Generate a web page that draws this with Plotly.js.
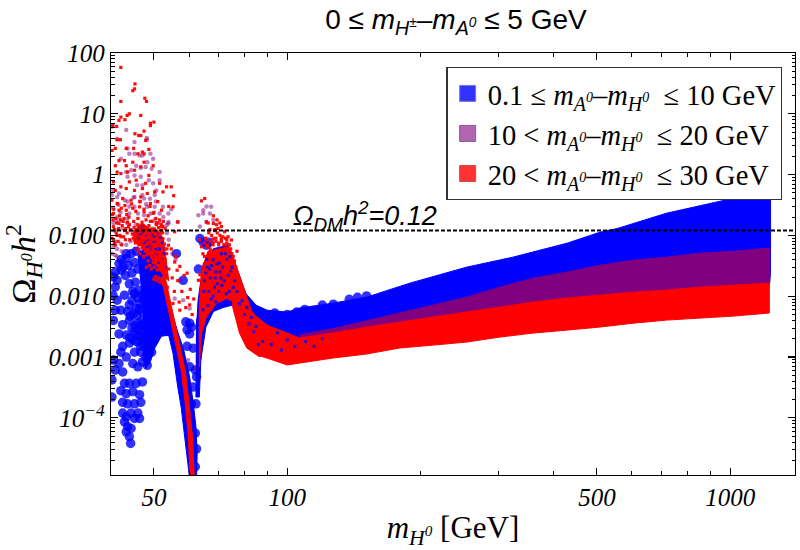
<!DOCTYPE html>
<html><head><meta charset="utf-8">
<script src="https://cdn.plot.ly/plotly-3.0.1.min.js"></script>
<style>html,body{margin:0;padding:0;background:#fff}</style>
</head><body><div id="chart" style="width:800px;height:550px"></div>
<script>
// ---------- tick labels ----------
const xTickVals=[50,100,500,1000];
const xTickText=['50','100','500','1000'];
const xMinorVals=[60,70,80,90,200,300,400,600,700,800,900];
const yTickVals=[100,10,1,0.1,0.01,0.001,0.0001];
const yTickText=['100','10','1','0.100','0.010','0.001','10<sup>−4</sup>'];
const yMinorVals=[];
for(const d of [10,1,0.1,0.01,0.001,0.0001,0.00001])for(const m of [2,3,4,5,6,7,8,9])yMinorVals.push(d*m);
const relicLimit=[0.12,0.12];
const relicLimitX=[40,1400];

// ---------- dense bands, upper and lower edges ----------
const bandX=[106.7,126.9,151,179.5,213.4,253.9,302,359,427,508,604,718,854,1016,1218];
const blueTopX=[80,85,90,100,106.7,126.9,151,189,254,323,428,508,558,718,1016,1090,1233];
const blueTopY=[.0118,.00714,.0059,.00548,.00638,.0077,.00966,.0164,.0301,.0439,.0745,.113,.131,.232,.408,.493,.552];
const blueLowX=[1233,1225,1016,718,427,253.9,151,106.7,100,90,85,82];
const blueLowY=[.0246,.0152,.0141,.0126,.00931,.00548,.00311,.00205,.0012,.00105,.00135,.0017];
const purpleTopY=[.00233,.00295,.00395,.0053,.00714,.00966,.0141,.0198,.0249,.0324,.0392,.0439,.051,.0551,.0617];
const redTopY=[.00205,.00248,.00311,.00376,.00454,.00548,.00662,.008,.00931,.01042,.01167,.0126,.0141,.0152,.0164];
const redLowY=[.000796,.000964,.00112,.00141,.00157,.00176,.00213,.00248,.00277,.00311,.00361,.00405,.00437,.00471,.00528];
const redLeftTopX=[75.3,80,85,90,100];
const redLeftTopY=[.011,.0077,.00471,.00335,.00248];
const redLeftLowX=[100,90,85.3,81,78,75.3];
const redLeftLowY=[.00074,.00096,.00108,.00141,.00248,.0066];

// ---------- dense blobs in the resonance region ----------
const blueBodyX=[46,47.5,49.4,51.5,53.4,55,54.5,52,50.2,49.1,47.9,47.3,47.5,47.3,46.6];
const blueBodyY=[.05,.06,.05,.03,.014,.0031,.0023,.0022,.0014,.00084,.00065,.0012,.0028,.0055,.02];
const blueArmX=[53.4,56.4,58.4,60.2,61.3,62.2,62.6,62.4,60.2,59,57.6,56.6,55.2,53.9];
const blueArmY=[.011,.0028,.0013,.00047,.00018,.000072,.000027,.00001,.00001,.0000335,.00015,.00032,.00115,.0024];
const blueRightX=[62.4,64,63.8,63.3,62.2,62.2];
const blueRightY=[.004,.0076,.00089,.00022,.00022,.00078];
const blueHumpX=[62.9,64.6,68.1,73.5,76.1,80.9,86.6,86.6,81.6,78.1,75.4,71.6,68.1,65.5,63.8,62.5,62.4];
const blueHumpY=[.0086,.0344,.0605,.069,.0365,.0104,.0049,.001,.0018,.0046,.0072,.0065,.0056,.0031,.00089,.00089,.0031];
const redHumpX=[63.3,64,66.2,74.1,76.8,86.6,86.6,82.3,76.8,72.9,69.2,65.7,64,63.3];
const redHumpY=[.0065,.026,.055,.065,.0303,.0024,.001,.0015,.0076,.0092,.0076,.0046,.0024,.00069];
const redArmX=[53,55.3,57.3,58.8,60,61.1,61.7,60.4,59.8,58.8,57.6,56.1,54.2,51.9];
const redArmY=[.0208,.0049,.0016,.00061,.00018,.000049,.00001,.00001,.000049,.00018,.00061,.0016,.0049,.0208];
const redCloudX=[45,47,49,51,52.5,53,54,53,51,49,47,45];
const redCloudY=[.12,.16,.13,.12,.09,.05,.018,.02,.03,.045,.065,.08];

// ---------- individual points ----------
const blueX=[40.5,40.9,40.4,41.3,42.9,44,40.9,42.1,43.6,45.6,40.5,42.5,44,46,47.1,47.5,41.7,43.3,45.2,46.7,48.3,42.5,44,45.6,47.1,48.7,49.4,42.1,43.3,45.2,46.7,47.9,40.5,41.7,44.8,46,47.1,48.3,40.9,42.5,40.2,42.9,44,45.6,47.1,40.2,42.1,43.3,44.8,46.4,46.7,42.5,43.6,45.2,42.5,43.3,44.4,46,46.4,45.2,42.9,43.6,44.4,43.3,44,44.3,40.9,41.3,41.7,43.3,42.2,
58.2,56.2,59,60.2,60.2,59.4,60.8,59.4,61.3,60.2,62,62.4,61.3,62.2,60.2,60.7,62,62.4,62,63.5,64.6,65.7,66.6,63,
109.5,114,120,127,138,144,151,82,86.7,93.7,100,105,
42.2,43.3,44.4,45.6,42.6,43.8,45.2,43.1,44.6,46,44,45.4,44.8,46.2,
44.6,45.2,45.9,46.5,47,47.4,44.2,45,45.8,46.4,47,44.6,45.4,46.2,46.9,47.4,44.1,45,45.8,46.6,47.2,47.6];
const blueY=[.0208,.0142,.0104,.0086,.0104,.0072,.0059,.0059,.0056,.0063,.004,.0034,.004,.0036,.004,.0028,.0024,.0023,.0026,.0022,.0024,.0015,.0017,.0018,.0016,.0014,.0012,.0012,.001,.0012,.0012,.001,.00089,.00078,.00078,.00069,.00083,.00073,.00061,.00057,.00042,.00037,.00037,.00037,.00039,.00022,.00028,.00025,.00027,.00024,.00018,.00018,.00017,.00017,.00012,.000104,.00012,.00012,.000098,.000098,.000086,.000072,.000067,.000059,.000049,.000038,.0251,.0183,.0344,.05,.0268,
.0183,.05,.0038,.0036,.0024,.0028,.0031,.0015,.0014,.00069,.00061,.00047,.00032,.00017,.000086,.00017,.000056,.000031,.0000157,.089,.0775,.069,.0775,.028,
.00607,.00585,.00714,.0074,.0089,.0096,.0101,.0063,.0055,.0053,.005,.0055,
.04,.042,.05,.055,.03,.032,.036,.022,.024,.028,.016,.017,.012,.0125,
.0085,.011,.0095,.0075,.0105,.0085,.0047,.0052,.0048,.0062,.0056,.003,.0033,.0029,.0032,.0035,.0021,.0019,.0023,.0015,.0019,.0022];
const blueSpeckX=[46,47.5,48,49,50,50.5,51.5,52,49.5,47,66,67,68,69,70,71,71.5,72,73,73.5,74,75,76,77,65,66.5,68,69.5,78,80,82,84,86,88,92,95,97,100,104,110,115,120,
64.8,65.5,66.2,67.5,68.5,69.3,70.5,72.5,74.5,75.5,65.8,67.3,68.8,70.2,71.2,72.8,74.2,64.5,66.8,69,70.8,79,81,83,85,
46.5,47.2,48.4,48.8,49.7,50.2,50.9,51.2,52.3,52.7,53.2,48.2,49.2,50.4,51.7];
const blueSpeckY=[.09,.075,.1,.06,.08,.05,.06,.04,.105,.11,.03,.02,.04,.025,.012,.05,.03,.018,.04,.022,.012,.03,.018,.012,.018,.012,.01,.016,.0075,.005,.0035,.0026,.0016,.0018,.0016,.0025,.0013,.0019,.0015,.0018,.0015,.002,
.012,.024,.007,.032,.014,.034,.025,.05,.026,.014,.04,.009,.02,.035,.015,.011,.045,.006,.028,.008,.02,.0085,.0065,.0045,.0032,
.1,.13,.065,.12,.045,.095,.11,.035,.075,.05,.03,.085,.07,.06,.09];
const purpleX=[40.2,41.3,43.3,45.2,48.2,48.2,43.6,44,42.1,45.2,46.4,47.1,49.1,49.8,48.3,45.6,46.7,47.9,49.4,44.4,43.3,45.2,43.6,46.7,48.7,49.8,51.5,51.5,47.1,45.8,50.6,50.2,47.1,47.5,45.2,40.5,41.7,41.3,40.2,43.6,45.2,50.2,48.3,52.4,54.7,53.9,56.6,53.9,53.4,49.1,47.5,46,43.6,42.1,40.5,41.3,44,50.2,51.5,
63,64.6,65.7,67.3,64.6,66.9,65.7,68.1,63.5,53.9,57.2,58.2,55.7,41.3,42.1,40.9,60.2,59.7,60.2,61.9,40.2,40.9,46,48.3,50.6,51.5,
40.3,40.7,41.2,41.6,42,42.5,43,43.5,44,44.5,45,45.5,46,46.5,47,47.5,48,48.5,49,49.5,50,50.5,51,51.5,52,52.5,53,53.5,54,55,56,40.5,41.3,42.3,43.3,44.3,45.3];
const purpleY=[6.2,3.9,5.4,3.45,4,3.75,2.7,2.2,1.83,2.2,2.07,2.07,2.2,1.83,1.6,1.4,1.3,1.34,1.25,1.18,1.1,.97,.92,.92,.81,.72,1.1,.81,.67,.67,.55,.46,.46,.405,.43,.55,.49,.43,.46,.36,.295,.295,.295,.295,.27,.23,.167,.167,.148,.23,.215,.23,.19,.18,.16,.2,.23,.18,.16,
.215,.26,.3,.295,.23,.23,.167,.18,.14,.157,.0183,.0086,.0092,.06,.073,.078,.0063,.00089,.000104,.00065,.05,.047,.06,.083,.055,.073,
.28,.12,.17,.32,.24,.13,.38,.16,.3,.12,.42,.15,.11,.36,.14,.12,.33,.09,.4,.13,.09,.36,.1,.23,.075,.2,.06,.11,.085,.05,.04,.065,.045,.055,.07,.08,.06];
const redX=[42.1,45.3,45.2,44.8,42.1,47.7,48.1,44,43.5,43,42.1,46.7,40.4,41.2,41.7,49.1,50,49.1,41.3,42,47.5,45.3,46.2,46.7,40.9,43.3,47.9,48.7,45,46,47.5,47.1,40.2,41.7,40.9,42.9,44.8,47.5,49.8,43.3,41.3,42.1,43.6,45.2,46.7,48.7,51.5,53.4,54.7,55.4,52.4,47.9,47.1,45.6,44,42.1,40.5,40.9,43.3,45.2,48.3,50.2,51,55.2,56.6,40.2,41.3,42.5,44.4,46.7,49.1,52,40.5,41.7,43.3,44.8,46.4,47.5,49.8,50.6,52.4,55.7,
40.5,41.7,42.9,44,41.3,40.5,42.1,40.9,46,47.5,49.1,50.6,49.8,52,53.4,53.9,54.7,55.7,57.2,56.4,59.4,57.2,60.2,55.2,63,63.5,65.7,68.1,69.2,69.8,71,72.2,66.9,68.7,73.5,74.8,71,68.1,65.7,64,63.5,64,65.1,68.1,69.4,70.4,66.3];
const redY=[58,31,25.7,24,16,18,16,10,9.4,8,8.8,9.4,6.4,6.2,7.8,7,7.3,6.4,3.75,3.75,5.2,4.7,4.4,4.4,2.7,2.7,3.65,2.6,2.7,2.2,2.2,2.35,2.5,1.7,1.4,1.7,1.6,1.6,1.4,1.4,1.1,1.04,1.1,1.18,1.34,.97,.72,.63,.63,.45,.52,.72,.59,.81,.76,.63,.76,.55,.59,.55,.49,.52,.36,.295,.167,.38,.335,.405,.38,.43,.335,.26,.23,.26,.26,.28,.295,.245,.23,.16,.14,.115,
.139,.157,.12,.15,.1,.084,.095,.069,.15,.13,.17,.15,.115,.14,.05,.069,.06,.0365,.031,.0268,.024,.0059,.0072,.0076,.0183,.0226,.167,.157,.15,.13,.14,.115,.125,.125,.095,.084,.088,.088,.084,.065,.084,.37,.405,.21,.18,.16,.16];
const redCloudRowX=[44.2,44.7,45.1,45.5,45.9,46.3,46.6,47,47.3,47.7,48,48.4,48.7,49,49.4,49.7,50.1,50.4,50.8,51.2,51.6,52,52.3,
44.9,45.4,45.8,46.2,46.7,47.1,47.5,47.9,48.3,48.6,49.1,49.5,49.9,50.3,50.7,51.1,51.5,51.9,52.4,52.8,
46.1,46.5,47,47.4,47.8,48.2,48.7,49,49.4,49.9,50.2,50.6,51,51.4,51.8,52.2,52.6,53,
48.1,48.5,48.9,49.3,49.8,50.1,50.5,50.9,51.3,51.7,52.1,52.5,52.9,53.3,
50,50.4,50.8,51.2,51.6,52,52.4,52.8,53.2,53.6,54,
40.3,40.6,41,41.4,41.8,42.2,42.6,43,43.4,43.8,40.4,40.8,41.2,41.6,42,42.4,42.8,43.2,43.6,44.1,40.2,40.7,41.1,41.5,41.9,42.3,42.7,43.1,43.5,43.9,
44.5,45,45.5,46,46.5,47,47.5,48,48.5,49,49.5,50,50.5,51,51.5,52,52.5,53,53.5,
64.5,65,65.5,66,66.5,67,67.5,68,68.5,69,69.5,70,70.5,71,71.5,72,72.5,73,73.5,74,74.5,75,75.5,76,76.5,77,66,67,68,69,70,71,72,73,74,75,65,64.6,
53,54,55,55.6,56,56.6,57,57.8,58.5,59,59.6,60.4,61,61.5,62];
const redCloudRowY=[.125,.105,.135,.11,.098,.14,.115,.12,.102,.13,.108,.118,.145,.1,.125,.112,.128,.104,.118,.135,.108,.122,.11,
.09,.075,.085,.07,.095,.08,.068,.088,.072,.092,.078,.07,.086,.066,.09,.074,.082,.068,.088,.072,
.058,.05,.062,.045,.055,.048,.06,.052,.044,.056,.047,.053,.042,.05,.04,.046,.038,
.036,.03,.038,.032,.028,.036,.03,.034,.027,.032,.029,.035,.028,.03,
.022,.019,.021,.018,.02,.017,.019,.016,.018,.015,.014,
.3,.22,.27,.19,.33,.21,.28,.17,.31,.22,.14,.18,.125,.16,.13,.18,.145,.19,.13,.165,.085,.09,.075,.11,.08,.1,.07,.095,.085,.11,
.2,.33,.17,.25,.19,.36,.165,.27,.18,.21,.3,.17,.24,.19,.16,.18,.15,.17,.13,
.06,.05,.075,.09,.065,.11,.08,.1,.07,.12,.09,.11,.075,.1,.085,.095,.07,.09,.075,.07,.055,.06,.05,.045,.038,.03,.055,.07,.06,.075,.08,.07,.08,.07,.085,.07,.04,.045,
.03,.04,.028,.02,.012,.045,.018,.008,.012,.022,.0065,.0095,.013,.005,.009];

// ---------- labels ----------
const seriesNames=[
 '0.1 ≤ <i>m</i><sub><i>A<sup>0</sup></i></sub>–<i>m</i><sub><i>H<sup>0</sup></i></sub>&nbsp; ≤ 10 GeV',
 '10 &lt; <i>m</i><sub><i>A<sup>0</sup></i></sub>–<i>m</i><sub><i>H<sup>0</sup></i></sub>&nbsp; ≤ 20 GeV',
 '20 &lt; <i>m</i><sub><i>A<sup>0</sup></i></sub>–<i>m</i><sub><i>H<sup>0</sup></i></sub>&nbsp; ≤ 30 GeV'];
const BLUE='#0000ff',PURPLE='#800080',RED='#ff0000';

function joinPolys(...polys){const out=[];polys.forEach((p,i)=>{if(i)out.push(null);out.push(...p,p[0]);});return out;}
function area(x,y,color,w){return {x,y,type:'scatter',mode:'lines',fill:'toself',fillcolor:color,line:{color,width:w},showlegend:false,hoverinfo:'skip',connectgaps:false};}
function pts(x,y,color,size,symbol,op){return {x,y,type:'scatter',mode:'markers',marker:{color,size,symbol,opacity:op,line:{width:0}},showlegend:false,hoverinfo:'skip'};}
function legendEntry(name,color,edge){return {x:[null],y:[null],type:'scatter',mode:'markers',name,legendgroup:name,marker:{color,opacity:1,size:16,symbol:'square',line:{color:edge,width:1}},hoverinfo:'skip'};}

const rev=a=>a.slice().reverse();
const traces=[
 area(joinPolys(blueBodyX,blueArmX,blueRightX,blueHumpX,[...blueTopX,...blueLowX]),
      joinPolys(blueBodyY,blueArmY,blueRightY,blueHumpY,[...blueTopY,...blueLowY]),BLUE,1),
 pts(blueX,blueY,BLUE,9.5,'circle',.8),
 area([...bandX,1228,1228,...rev(bandX)],[...purpleTopY,.0617,.0164,...rev(redTopY)],PURPLE,1),
 area(joinPolys(redCloudX,redArmX,redHumpX,[...redLeftTopX,...bandX,1225,1225,...rev(bandX),...redLeftLowX]),
      joinPolys(redCloudY,redArmY,redHumpY,[...redLeftTopY,...redTopY,.0164,.00528,...rev(redLowY),...redLeftLowY]),RED,1),
 pts(purpleX,purpleY,PURPLE,4.5,'circle',.5),
 pts(blueSpeckX,blueSpeckY,BLUE,3,'square',.85),
 pts(redCloudRowX,redCloudRowY,RED,3.2,'square',.95),
 pts(redX,redY,RED,3.2,'square',.95),
 {x:relicLimitX,y:relicLimit,type:'scatter',mode:'lines',line:{color:'#000',width:2,dash:'4px,2px'},showlegend:false,hoverinfo:'skip'},
 legendEntry(seriesNames[0],'#3333ff','#7a7ad0'),
 legendEntry(seriesNames[1],'#b266b2','#8a5a8a'),
 legendEntry(seriesNames[2],'#ff3333','#c05050')
];

const serif='"Liberation Serif","Times New Roman",serif';
const sans='"Liberation Sans",Arial,sans-serif';
const tickFont={family:serif,size:25,color:'#000',style:'italic'};
const axisCommon={type:'log',ticks:'inside',ticklen:7,tickwidth:1.1,tickcolor:'#000',linecolor:'#000',linewidth:1.3,mirror:'ticks',showgrid:false,zeroline:false,tickmode:'array',tickfont:tickFont};

const layout={
 width:800,height:550,paper_bgcolor:'#fff',plot_bgcolor:'#fff',
 margin:{l:111,r:4.5,t:52.5,b:74.7,pad:0},
 title:{text:'0 ≤ <i>m</i><sub><i>H<sup>±</sup></i></sub><i>–m</i><sub><i>A<sup>0</sup></i></sub> ≤ 5 GeV',font:{family:sans,size:28,color:'#000'},x:456/800,xref:'container',xanchor:'center',y:0.965,yref:'container',yanchor:'middle'},
 xaxis:{...axisCommon,range:[Math.log10(40),Math.log10(1400)],tickvals:xTickVals,ticktext:xTickText,
   minor:{ticks:'inside',ticklen:4,tickwidth:1,tickcolor:'#000',tickmode:'array',tickvals:xMinorVals},
   title:{text:'<i>m</i><sub><i>H<sup>0</sup></i></sub> [GeV]',font:{family:serif,size:31,color:'#000'},standoff:12}},
 yaxis:{...axisCommon,range:[-4.94,2],tickvals:yTickVals,ticktext:yTickText,
   minor:{ticks:'inside',ticklen:3.5,tickwidth:1,tickcolor:'#000',tickmode:'array',tickvals:yMinorVals},
   title:{text:'Ω<sub><i>H<sup>0</sup></i></sub><i>h</i><sup>2</sup>',font:{family:serif,size:34,color:'#000'},standoff:6}},
 legend:{x:(446.7-111)/684.5,y:(475.3-66.7)/422.8,xanchor:'left',yanchor:'top',bgcolor:'#fff',bordercolor:'#333',borderwidth:1.2,font:{family:serif,size:28.5,color:'#000'},itemsizing:'trace',itemclick:false,itemdoubleclick:false,tracegroupgap:0},
 annotations:[{xref:'paper',yref:'paper',x:(365-111)/684.5,y:(475.3-216)/422.8,xanchor:'center',yanchor:'middle',showarrow:false,
   text:'<i>Ω<sub>DM</sub>h<sup>2</sup>=0.12</i>',font:{family:sans,size:27,color:'#000'}}]
};
Plotly.newPlot('chart',traces,layout,{displayModeBar:false,staticPlot:true});
</script></body></html>
